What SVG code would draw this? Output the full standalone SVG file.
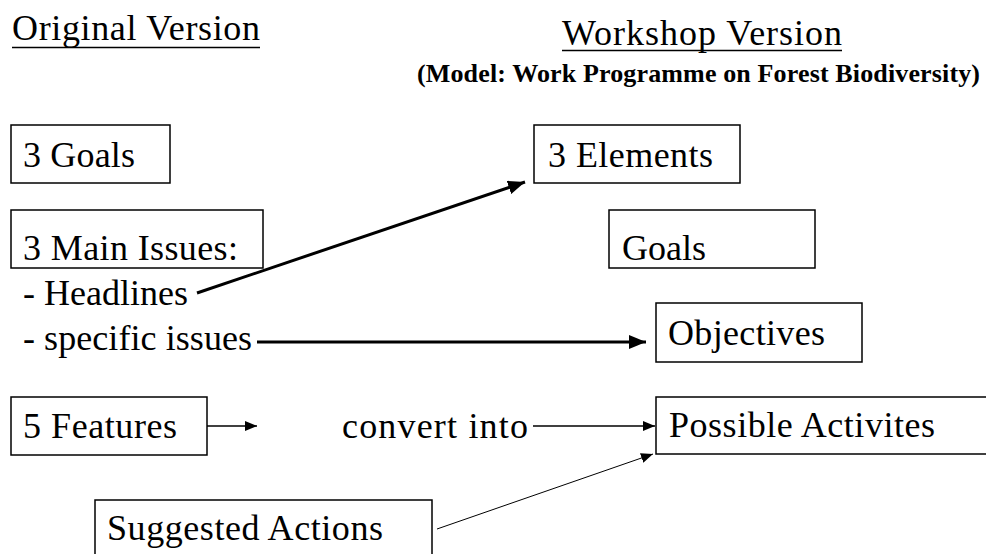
<svg xmlns="http://www.w3.org/2000/svg" width="986" height="554" viewBox="0 0 986 554">
<style>
.t { font-size: 36px; fill: #000; }
.sub { font-size: 26px; font-weight: bold; fill: #000; }
.box { fill: #fff; stroke: #000; stroke-width: 1.5; }
.ul { stroke: #000; stroke-width: 1.5; }
.thick { stroke: #000; stroke-width: 3; fill: none; }
.thin { stroke: #000; stroke-width: 1.5; fill: none; }
.hair { stroke: #000; stroke-width: 1; fill: none; }
</style>
<defs>
<marker id="ab" markerUnits="userSpaceOnUse" markerWidth="18" markerHeight="14" refX="17" refY="7" orient="auto">
<path d="M0,0 L17,7 L0,14 Z" fill="#000"/>
</marker>
<marker id="as" markerUnits="userSpaceOnUse" markerWidth="13" markerHeight="10" refX="12" refY="5" orient="auto">
<path d="M0,0 L12,5 L0,10 Z" fill="#000"/>
</marker>
</defs>
<rect width="986" height="554" fill="#fff"/>

<g id="title-original">
<text class="t" font-family="Liberation Serif" x="12" y="40" textLength="248" lengthAdjust="spacing">Original Version</text>
<line class="ul" x1="12" y1="47.5" x2="260" y2="47.5"/>
</g>
<g id="title-workshop">
<text class="t" font-family="Liberation Serif" x="562" y="45" textLength="280" lengthAdjust="spacing">Workshop Version</text>
<line class="ul" x1="562" y1="50.5" x2="842" y2="50.5"/>
<text class="sub" font-family="Liberation Serif" x="417" y="82" textLength="563" lengthAdjust="spacing">(Model: Work Programme on Forest Biodiversity)</text>
</g>

<g id="goals3">
<rect class="box" x="11" y="125" width="159" height="58"/>
<text class="t" font-family="Liberation Serif" x="23" y="167" textLength="112" lengthAdjust="spacing">3 Goals</text>
</g>
<g id="mainissues">
<rect class="box" x="11" y="210" width="252" height="58"/>
<text class="t" font-family="Liberation Serif" x="23" y="260" textLength="215" lengthAdjust="spacing">3 Main Issues:</text>
</g>
<g id="headlines">
<text class="t" font-family="Liberation Serif" x="23" y="305" textLength="165" lengthAdjust="spacing">- Headlines</text>
</g>
<g id="specific">
<text class="t" font-family="Liberation Serif" x="23" y="350" textLength="229" lengthAdjust="spacing">- specific issues</text>
</g>
<g id="features5">
<rect class="box" x="11" y="397" width="196" height="58"/>
<text class="t" font-family="Liberation Serif" x="23" y="438" textLength="154" lengthAdjust="spacing">5 Features</text>
</g>
<g id="convert">
<text class="t" font-family="Liberation Serif" x="342" y="438" textLength="186" lengthAdjust="spacing">convert into</text>
</g>
<g id="suggested">
<rect class="box" x="95" y="500" width="337" height="70"/>
<text class="t" font-family="Liberation Serif" x="107" y="540" textLength="276" lengthAdjust="spacing">Suggested Actions</text>
</g>

<g id="elements3">
<rect class="box" x="534" y="125" width="206" height="58"/>
<text class="t" font-family="Liberation Serif" x="548" y="167" textLength="165" lengthAdjust="spacing">3 Elements</text>
</g>
<g id="goals">
<rect class="box" x="609" y="210" width="206" height="58"/>
<text class="t" font-family="Liberation Serif" x="622" y="260" textLength="84" lengthAdjust="spacing">Goals</text>
</g>
<g id="objectives">
<rect class="box" x="656" y="303" width="206" height="59"/>
<text class="t" font-family="Liberation Serif" x="668" y="345" textLength="157" lengthAdjust="spacing">Objectives</text>
</g>
<g id="activities">
<rect class="box" x="656" y="397" width="340" height="57"/>
<text class="t" font-family="Liberation Serif" x="669" y="437" textLength="266" lengthAdjust="spacing">Possible Activites</text>
</g>

<g id="connectors">
<line class="thick" x1="197" y1="293" x2="525" y2="182" marker-end="url(#ab)"/>
<line class="thick" x1="257" y1="342" x2="646" y2="342" marker-end="url(#ab)"/>
<line class="thin" x1="207" y1="426" x2="257" y2="426" marker-end="url(#as)"/>
<line class="thin" x1="533" y1="426" x2="655" y2="426" marker-end="url(#as)"/>
<line class="hair" x1="437" y1="529" x2="653" y2="454" marker-end="url(#as)"/>
</g>
</svg>
